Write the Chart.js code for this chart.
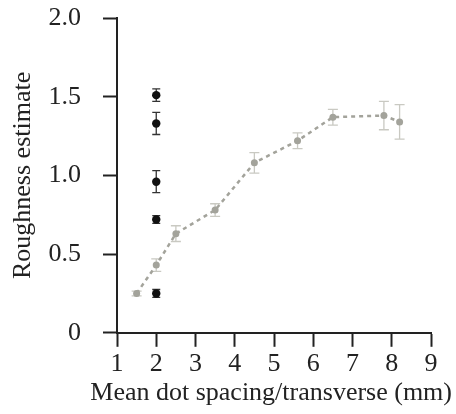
<!DOCTYPE html>
<html>
<head>
<meta charset="utf-8">
<script src="https://cdn.jsdelivr.net/npm/chart.js@4.4.0/dist/chart.umd.min.js"></script>
<style>
  html, body { margin: 0; padding: 0; background: #fff; }
  #wrap { width: 456px; height: 414px; }
</style>
</head>
<body>
<div id="wrap"><canvas id="roughChart"></canvas></div>
<script>
// grey series: roughness vs mean dot spacing (dashed line)
const greyX = [1.5, 2.0, 2.5, 3.5, 4.5, 5.6, 6.5, 7.8, 8.2];
const greyY = [0.25, 0.43, 0.63, 0.78, 1.08, 1.22, 1.37, 1.38, 1.34];
const greyErr = [0.015, 0.04, 0.05, 0.04, 0.065, 0.05, 0.05, 0.09, 0.11];

// black series: all at 2 mm
const blackX = [2, 2, 2, 2, 2];
const blackY = [1.51, 1.33, 0.96, 0.72, 0.25];
const blackErr = [0.04, 0.07, 0.07, 0.025, 0.025];

const xTicks = [1, 2, 3, 4, 5, 6, 7, 8, 9];
const yTicks = [0, 0.5, 1.0, 1.5, 2.0];

function toPoints(xs, ys) {
    return xs.map((x, i) => ({ x: x, y: ys[i] }));
}

// draws vertical error bars with caps, under the points
const errorBars = {
    id: 'errorBars',
    beforeDatasetsDraw(chart) {
        const ctx = chart.ctx;
        const xs = chart.scales.x, ys = chart.scales.y;
        chart.data.datasets.forEach(ds => {
            if (!ds.errors) return;
            ctx.save();
            ctx.strokeStyle = ds.errColor;
            ctx.lineWidth = 1.3;
            ds.data.forEach((p, i) => {
                const px = xs.getPixelForValue(p.x);
                const top = ys.getPixelForValue(p.y + ds.errors[i]);
                const bot = ys.getPixelForValue(p.y - ds.errors[i]);
                const w = ds.capWidth;
                ctx.beginPath();
                ctx.moveTo(px, top); ctx.lineTo(px, bot);
                ctx.moveTo(px - w, top); ctx.lineTo(px + w, top);
                ctx.moveTo(px - w, bot); ctx.lineTo(px + w, bot);
                ctx.stroke();
            });
            ctx.restore();
        });
    }
};

const serif = 'Liberation Serif';

new Chart(document.getElementById('roughChart'), {
    type: 'scatter',
    data: {
        datasets: [
            {
                data: toPoints(greyX, greyY),
                errors: greyErr,
                errColor: '#c9c9c2',
                capWidth: 5,
                showLine: true,
                borderColor: '#a3a39b',
                borderWidth: 2.5,
                borderDash: [4, 4],
                backgroundColor: '#a3a39b',
                pointBorderWidth: 0,
                pointRadius: 3.5
            },
            {
                data: toPoints(blackX, blackY),
                errors: blackErr,
                errColor: '#333',
                capWidth: 4,
                backgroundColor: '#111',
                pointBorderWidth: 0,
                pointRadius: 4.2
            }
        ]
    },
    options: {
        responsive: true,
        maintainAspectRatio: false,
        animation: false,
        layout: { padding: { top: 0, right: 4, left: 0, bottom: 0 } },
        plugins: {
            legend: { display: false },
            tooltip: { enabled: false },
            // x axis title as chart title so it is not squeezed to the axis width
            title: {
                display: true, position: 'bottom', align: 'end',
                text: 'Mean dot spacing/transverse (mm)', color: '#222',
                font: { family: serif, size: 26, weight: 'normal' },
                padding: { top: 0, bottom: 5 }
            }
        },
        scales: {
            x: {
                type: 'linear', min: 1, max: 9,
                afterFit: s => { s.height = 45; s.paddingRight = 25; },
                afterBuildTicks: s => { s.ticks = xTicks.map(v => ({ value: v })); },
                border: { color: '#222', width: 2 },
                grid: { drawOnChartArea: false, tickLength: 14, color: '#222', tickWidth: 2 },
                ticks: { color: '#222', padding: 2, font: { family: serif, size: 26 } }
            },
            y: {
                min: 0, max: 2,
                afterFit: s => { s.width = 117; s.paddingTop = 18; s.paddingBottom = 0; },
                afterBuildTicks: s => { s.ticks = yTicks.map(v => ({ value: v })); },
                border: { color: '#222', width: 2 },
                grid: { drawOnChartArea: false, tickLength: 14, color: '#222', tickWidth: 2 },
                ticks: {
                    color: '#222', padding: 22, font: { family: serif, size: 26 },
                    callback: v => v === 0 ? '0' : v.toFixed(1)
                },
                title: {
                    display: true, text: 'Roughness estimate', color: '#222',
                    font: { family: serif, size: 26 }, padding: { top: 8, bottom: 0 }
                }
            }
        }
    },
    plugins: [errorBars]
});
</script>
</body>
</html>
